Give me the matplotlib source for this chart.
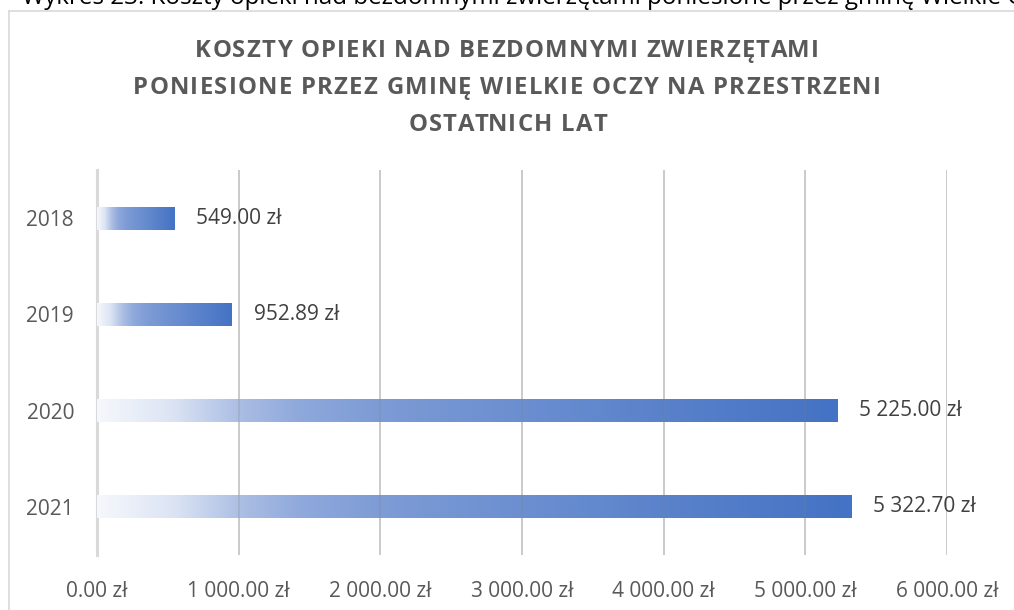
import matplotlib
matplotlib.use("Agg")
import matplotlib.pyplot as plt
import numpy as np
from matplotlib.colors import LinearSegmentedColormap
from matplotlib.lines import Line2D

plt.rcParams['font.family'] = ['Open Sans', 'DejaVu Sans']

# ---- data ----
years = ["2018", "2019", "2020", "2021"]
costs = [549.00, 952.89, 5225.00, 5322.70]
x_ticks = [0, 1000, 2000, 3000, 4000, 5000, 6000]
title_lines = ["KOSZTY OPIEKI NAD BEZDOMNYMI ZWIERZĘTAMI",
               "PONIESIONE PRZEZ GMINĘ WIELKIE OCZY NA PRZESTRZENI",
               "OSTATNICH LAT"]
caption = "Wykres 23. Koszty opieki nad bezdomnymi zwierzętami poniesione przez gminę Wielkie Oczy"


def pln(v):
    return f"{v:,.2f}".replace(",", " ") + " zł"


W, H = 1014, 610
fig = plt.figure(figsize=(W / 100, H / 100), dpi=100)
fig.patch.set_facecolor("white")
renderer = fig.canvas.get_renderer()

# chart frame (left and top edges visible)
fig.add_artist(Line2D([8.5 / W, 8.5 / W], [0, 1 - 10.5 / H], transform=fig.transFigure,
                      color="#D9D9D9", lw=1.2))
fig.add_artist(Line2D([8.5 / W, 1], [1 - 10.5 / H, 1 - 10.5 / H], transform=fig.transFigure,
                      color="#D9D9D9", lw=1.2))

# caption (cut off at top, as in the source page)
fig.text(22 / W, 1 - 4 / H, caption, ha="left", va="baseline", fontsize=17.4,
         color="black")


def text_width(s, **kw):
    t = fig.text(0, 0, s, **kw)
    w = t.get_window_extent(renderer).width
    t.remove()
    return w


def spaced_line(s, xc, yb, spacing, **kw):
    ref = text_width("I", **kw)
    pos = [text_width(s[:i] + "I", **kw) - ref for i in range(len(s))]
    total = text_width(s, **kw) + spacing * (len(s) - 1)
    x0 = xc - total / 2
    for i, ch in enumerate(s):
        if ch == " ":
            continue
        fig.text((x0 + pos[i] + i * spacing) / W, 1 - yb / H, ch, ha="left",
                 va="baseline", **kw)


# title with letter spacing
baselines = [57, 94, 131]
for line, b in zip(title_lines, baselines):
    spaced_line(line, 507, b, 1.25, fontsize=17.2, fontweight="bold", color="#595959")

# axes
left, right, top, bottom = 97, 947, 170, 555
ax = fig.add_axes([left / W, 1 - bottom / H, (right - left) / W, (bottom - top) / H])

ypos = np.arange(len(years))
bars = ax.barh(ypos, costs, height=0.24, color="none", edgecolor="none", zorder=2)

cmap = LinearSegmentedColormap.from_list(
    "grad", [(0.0, "#F5F8FC"), (0.1, "#DCE4F4"), (0.19, "#ABBEE3"),
             (0.27, "#8FA9DC"), (0.37, "#7F9CD6"), (0.43, "#7898D4"),
             (1.0, "#4472C4")])
grad = np.linspace(0, 1, 256).reshape(1, -1)
for b in bars:
    x0, y0 = b.get_x(), b.get_y()
    w, h = b.get_width(), b.get_height()
    im = ax.imshow(grad, cmap=cmap, aspect="auto", extent=[x0, x0 + w, y0 + h, y0],
                   zorder=2, interpolation="bilinear")
    im.set_clip_path(b)

# faint gridlines showing through the bars
for t in x_ticks[1:]:
    ax.axvline(t, color="#808080", lw=1.2, alpha=0.25, zorder=2.5)

for yi, v in zip(ypos, costs):
    ax.annotate(pln(v), xy=(v, yi), xytext=(15.5, 0), textcoords="offset points",
                ha="left", va="center", fontsize=15, color="#404040", zorder=3)

ax.set_xlim(0, 6000)
ax.set_ylim(len(years) - 0.5, -0.5)
ax.set_xticks(x_ticks)
ax.set_xticklabels([pln(t) for t in x_ticks])
ax.set_yticks(ypos)
ax.set_yticklabels(years)
ax.tick_params(axis="x", length=0, pad=19, labelsize=15, labelcolor="#595959")
ax.tick_params(axis="y", length=0, pad=16.5, labelsize=15, labelcolor="#595959")

ax.grid(axis="x", color="#D9D9D9", lw=1.2, zorder=0)
ax.set_axisbelow(True)
for s in ["top", "right", "bottom"]:
    ax.spines[s].set_visible(False)
ax.spines["left"].set_color("#D9D9D9")
ax.spines["left"].set_linewidth(2.2)
ax.spines["left"].set_zorder(1)
ax.set_facecolor("none")

fig.savefig("out.png", dpi=100)
